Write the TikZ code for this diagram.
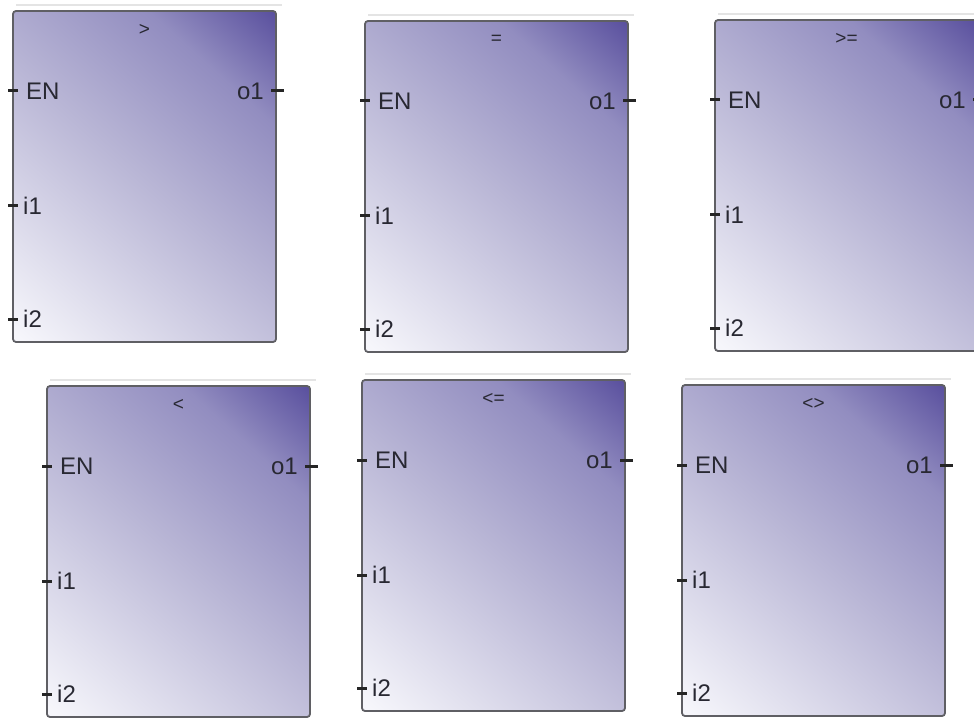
\documentclass[tikz,border=0pt]{standalone}
\usepackage{fontspec}
\setmainfont{Liberation Sans}
\definecolor{boxdark}{RGB}{86,76,156}
\definecolor{boxmid2}{RGB}{146,141,192}
\definecolor{boxmid}{RGB}{184,181,213}
\definecolor{boxlight}{RGB}{246,246,251}
\definecolor{boxedge}{RGB}{95,95,100}
\definecolor{lbltext}{RGB}{40,40,50}
\definecolor{shadowline}{RGB}{228,228,228}
\pgfdeclareverticalshading{blockshade}{100bp}{color(0bp)=(boxlight); color(16bp)=(boxlight); color(50bp)=(boxmid); color(71bp)=(boxmid2); color(86bp)=(boxdark); color(100bp)=(boxdark)}
\tikzset{
  fblock/.style={draw=boxedge, line width=1.8pt, rounded corners=3pt,
    shading=blockshade, shading angle=-42, minimum width=263pt, minimum height=331pt,
    inner sep=0pt, outer sep=0pt, anchor=north west},
  pinlbl/.style={font=\fontsize{24}{26}\selectfont, text=lbltext, inner sep=0pt},
  titlelbl/.style={font=\fontsize{19}{21}\selectfont, text=lbltext, inner sep=0pt},
  stub/.style={line width=3pt, draw=black!85},
  topline/.style={line width=2pt, draw=shadowline}
}
\newcommand\fblockdraw[4]{%
  % #1 name, #2 x, #3 y, #4 title
  \node[fblock] (#1) at (#2,#3) {};
  \draw[topline] ([yshift=6pt,xshift=3pt]#1.north west) -- ([yshift=6pt,xshift=6pt]#1.north east);
  \node[titlelbl] (#1t) at ([yshift=-19pt]#1.north) {#4};
  \coordinate (#1pen) at ([yshift=-80pt]#1.north west);
  \coordinate (#1pi1) at ([yshift=-195pt]#1.north west);
  \coordinate (#1pi2) at ([yshift=-308pt]#1.north west);
  \coordinate (#1po1) at ([yshift=-80pt]#1.north east);
  \draw[stub] ([xshift=-5pt]#1pen) -- ([xshift=5pt]#1pen);
  \draw[stub] ([xshift=-5pt]#1pi1) -- ([xshift=5pt]#1pi1);
  \draw[stub] ([xshift=-5pt]#1pi2) -- ([xshift=5pt]#1pi2);
  \draw[stub] ([xshift=-5pt]#1po1) -- ([xshift=8pt]#1po1);
  \node[pinlbl, anchor=west] (#1en) at ([xshift=13pt]#1pen) {EN};
  \node[pinlbl, anchor=west] (#1i1) at ([xshift=10pt]#1pi1) {i1};
  \node[pinlbl, anchor=west] (#1i2) at ([xshift=10pt]#1pi2) {i2};
  \node[pinlbl, anchor=east] (#1o1) at ([xshift=-12pt]#1po1) {o1};
}
\begin{document}
\begin{tikzpicture}[x=1pt,y=-1pt]
\path[use as bounding box, fill=white] (0,0) rectangle (974,719);
\begin{scope}
\clip (0,0) rectangle (974,719);
\fblockdraw{gt}{13}{11}{>}
\fblockdraw{eq}{365}{21}{=}
\fblockdraw{ge}{715}{20}{>=}
\fblockdraw{lt}{47}{386}{<}
\fblockdraw{le}{362}{380}{<=}
\fblockdraw{ne}{682}{385}{<>}
\end{scope}
\end{tikzpicture}
\end{document}
